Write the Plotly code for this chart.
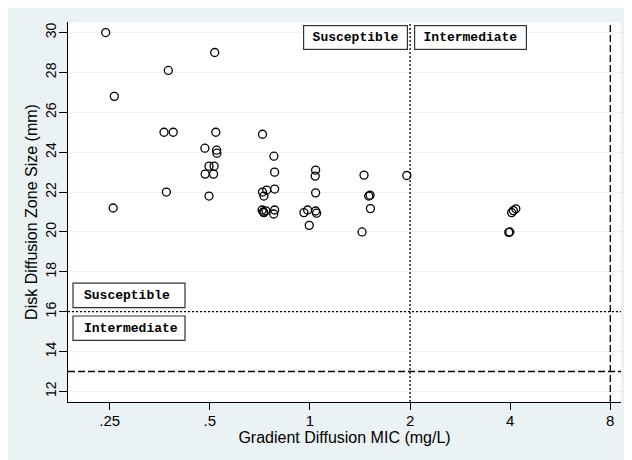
import math
import plotly.graph_objects as go

# Gradient diffusion MIC (mg/L) and disk diffusion zone size (mm)
mic = [0.243, 0.258, 0.256,
       0.375, 0.364, 0.388, 0.370,
       0.517, 0.521, 0.483, 0.524, 0.525, 0.497, 0.515, 0.484, 0.513, 0.497,
       0.720, 0.779, 0.783, 0.783, 0.720, 0.741, 0.727, 0.718, 0.727, 0.737, 0.783, 0.778, 0.724,
       0.995, 1.040, 1.037, 1.040, 0.959, 0.984, 1.040, 1.047,
       1.454, 1.502, 1.516, 1.520, 1.434,
       1.955,
       4.04, 4.09, 4.16, 3.96, 3.99]
zone = [30.0, 26.8, 21.2,
        28.1, 25.0, 25.0, 22.0,
        29.0, 25.0, 24.2, 24.1, 23.95, 23.3, 23.3, 22.9, 22.9, 21.8,
        24.9, 23.8, 23.0, 22.15, 22.0, 22.1, 21.8, 21.1, 20.97, 21.06, 21.1, 20.9, 21.0,
        20.33, 23.1, 22.8, 21.96, 20.97, 21.1, 21.05, 20.94,
        22.85, 21.8, 21.84, 21.17, 20.0,
        22.83,
        20.97, 21.07, 21.16, 19.98, 20.0]

x_ticks = [0.25, 0.5, 1, 2, 4, 8]
x_ticktext = [".25", ".5", "1", "2", "4", "8"]
y_ticks = [12, 14, 16, 18, 20, 22, 24, 26, 28, 30]

mic_breaks = [2, 8]       # susceptible / intermediate MIC breakpoints
zone_breaks = [16, 13]    # susceptible / intermediate zone breakpoints

x_range = [-0.7276, 0.9353]   # log10
y_range = [11.47, 30.53]

BG = "#EAF2F3"
FONT = "Liberation Sans, Arial, sans-serif"
MONO = "Liberation Mono, Courier New, monospace"

fig = go.Figure()
fig.add_trace(go.Scatter(
    x=mic, y=zone, mode="markers",
    marker=dict(symbol="circle-open", size=8, color="black", line=dict(width=1.3, color="black")),
    showlegend=False, hoverinfo="x+y"))

shapes = []
# reference lines
shapes.append(dict(type="line", xref="x", yref="paper", x0=mic_breaks[0], x1=mic_breaks[0], y0=0, y1=1,
                   line=dict(color="black", width=1.3, dash="2px,2px")))
shapes.append(dict(type="line", xref="x", yref="paper", x0=mic_breaks[1], x1=mic_breaks[1], y0=0, y1=1,
                   line=dict(color="black", width=1.3, dash="7px,3px")))
shapes.append(dict(type="line", xref="paper", yref="y", x0=0, x1=1, y0=zone_breaks[0], y1=zone_breaks[0],
                   line=dict(color="black", width=1.3, dash="2px,2px")))
shapes.append(dict(type="line", xref="paper", yref="y", x0=0, x1=1, y0=zone_breaks[1], y1=zone_breaks[1],
                   line=dict(color="black", width=1.3, dash="7px,3px")))

boxline = dict(color="#333333", width=1.2)
# left boxes, anchored at plot left and y = 16
shapes.append(dict(type="rect", xref="paper", xsizemode="pixel", xanchor=0, x0=5, x1=117,
                   yref="y", ysizemode="pixel", yanchor=zone_breaks[0], y0=4, y1=28.5,
                   line=boxline, fillcolor="white"))
shapes.append(dict(type="rect", xref="paper", xsizemode="pixel", xanchor=0, x0=5, x1=117,
                   yref="y", ysizemode="pixel", yanchor=zone_breaks[0], y0=-4.3, y1=-28.7,
                   line=boxline, fillcolor="white"))

afont = dict(family=MONO, size=13, color="black", weight="bold")
boxed = dict(bordercolor="#333333", borderwidth=1.2, borderpad=3, bgcolor="white", height=17, align="center")
annotations = [
    dict(text="Susceptible", x=math.log10(mic_breaks[0]), xref="x", y=1, yref="paper",
         xshift=-54.7, yshift=-15.8, xanchor="center", yanchor="middle", showarrow=False, font=afont,
         width=96.8, **boxed),
    dict(text="Intermediate", x=math.log10(mic_breaks[0]), xref="x", y=1, yref="paper",
         xshift=60.2, yshift=-15.8, xanchor="center", yanchor="middle", showarrow=False, font=afont,
         width=104.5, **boxed),
    dict(text="Susceptible", x=0, xref="paper", y=zone_breaks[0], yref="y",
         xshift=14.4, yshift=16.3, xanchor="left", yanchor="middle", showarrow=False, font=afont),
    dict(text="Intermediate", x=0, xref="paper", y=zone_breaks[0], yref="y",
         xshift=14.4, yshift=-16.5, xanchor="left", yanchor="middle", showarrow=False, font=afont),
]

fig.update_layout(
    width=632, height=460,
    margin=dict(l=60, r=19, t=14, b=66, autoexpand=False),
    paper_bgcolor=BG, plot_bgcolor="white",
    font=dict(family=FONT, color="black"),
    shapes=shapes, annotations=annotations,
    xaxis=dict(type="log", range=x_range, tickvals=x_ticks, ticktext=x_ticktext,
               showgrid=False, zeroline=False, showline=True, linecolor="black", linewidth=1,
               ticks="outside", ticklen=7, tickcolor="black", tickwidth=1,
               tickfont=dict(size=15, family=FONT, color="black"), ticklabelstandoff=-2,
               title=dict(text="Gradient Diffusion MIC (mg/L)", font=dict(size=16, family=FONT, color="black"),
                          standoff=0)),
    yaxis=dict(range=y_range, tickvals=y_ticks, tickangle=-90,
               showgrid=True, gridcolor=BG, gridwidth=1, zeroline=False,
               showline=True, linecolor="black", linewidth=1,
               ticks="outside", ticklen=8, tickcolor="black", tickwidth=1,
               tickfont=dict(size=14, family=FONT, color="black"), ticklabelstandoff=-3,
               title=dict(text="Disk Diffusion Zone Size (mm)", font=dict(size=16, family=FONT, color="black"),
                          standoff=1)),
)

fig.write_html("out.html")
